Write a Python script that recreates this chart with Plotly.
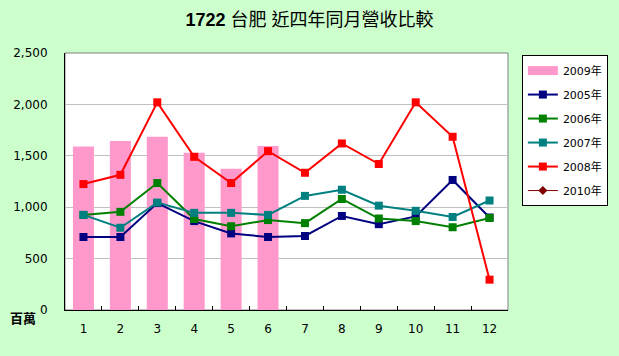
import plotly.graph_objects as go

months = [str(i) for i in range(1, 13)]
y2009 = [1590, 1645, 1685, 1530, 1375, 1595]
y2005 = [710, 710, 1040, 865, 745, 710, 720, 915, 835, 910, 1265, 900]
y2006 = [925, 955, 1235, 885, 815, 875, 845, 1080, 890, 865, 805, 895]
y2007 = [925, 800, 1045, 945, 945, 925, 1110, 1170, 1015, 965, 905, 1065]
y2008 = [1225, 1315, 2020, 1490, 1235, 1545, 1335, 1620, 1420, 2020, 1685, 295]
y2010 = [None] * 12
yticks = [0, 500, 1000, 1500, 2000, 2500]
ytick_text = ["0", "500", "1,000", "1,500", "2,000", "2,500"]

FONT = "DejaVu Sans, Noto Sans CJK TC, sans-serif"
PINK = "#FF99CC"

fig = go.Figure()
fig.add_trace(go.Bar(x=months[:6], y=y2009, name="2009年", marker=dict(color=PINK, line=dict(width=0)),
                     width=0.57, showlegend=False))
# legend swatch for the bar series (wide rectangle like the original)
fig.add_trace(go.Scatter(x=[None], y=[None], name="2009年", mode="lines",
                         line=dict(color=PINK, width=9), legendgroup="a"))
series = [("2005年", y2005, "#000080"),
          ("2006年", y2006, "#008000"),
          ("2007年", y2007, "#008080"),
          ("2008年", y2008, "#FF0000")]
for i, (n, ys, c) in enumerate(series):
    fig.add_trace(go.Scatter(x=months, y=ys, name=n, mode="lines+markers",
                             line=dict(color=c, width=2),
                             marker=dict(symbol="square", size=8, color=c),
                             legendgroup="g%d" % i))
fig.add_trace(go.Scatter(x=months, y=y2010, name="2010年", mode="lines+markers",
                         line=dict(color="#800000", width=1),
                         marker=dict(symbol="diamond", size=7, color="#800000"),
                         legendgroup="z"))

fig.update_layout(
    width=619, height=356,
    paper_bgcolor="#CCFFCC", plot_bgcolor="white",
    margin=dict(l=65, r=110, t=53, b=46),
    font=dict(family=FONT, size=11, color="black"),
    title=dict(text="<b>1722</b> 台肥 近四年同月營收比較", x=0.5, xanchor="center",
               y=0.945, yanchor="middle", font=dict(size=18, family="Liberation Sans, Noto Sans CJK TC")),
    showlegend=True,
    legend=dict(x=1.029, y=0.992, xanchor="left", yanchor="top",
                bgcolor="white", bordercolor="black", borderwidth=1,
                font=dict(size=11, family=FONT), tracegroupgap=5),
)
fig.update_xaxes(type="category", range=[-0.5, 11.5], showline=True, linecolor="black", linewidth=1,
                 ticks="inside", tickson="boundaries", ticklen=4, tickcolor="black",
                 mirror=False, showgrid=False, ticklabelstandoff=8,
                 tickfont=dict(size=12))
fig.update_yaxes(range=[0, 2500], tickvals=yticks, ticktext=ytick_text, showline=True,
                 linecolor="black", linewidth=1, gridcolor="#C0C0C0", gridwidth=1,
                 zeroline=False, ticks="", ticklabelstandoff=14, tickfont=dict(size=12))
fig.add_shape(type="rect", xref="paper", yref="paper", x0=0, y0=0, x1=1, y1=1,
              line=dict(color="#808080", width=1), layer="below")
fig.add_annotation(text="<b>百萬</b>", xref="paper", yref="paper", x=-0.06, y=-0.03,
                   xanchor="right", yanchor="middle", showarrow=False,
                   font=dict(size=13, family="Noto Sans CJK TC"))
fig.write_html("out.html", config={"displayModeBar": False},
               post_script="document.body.style.margin='0';")
